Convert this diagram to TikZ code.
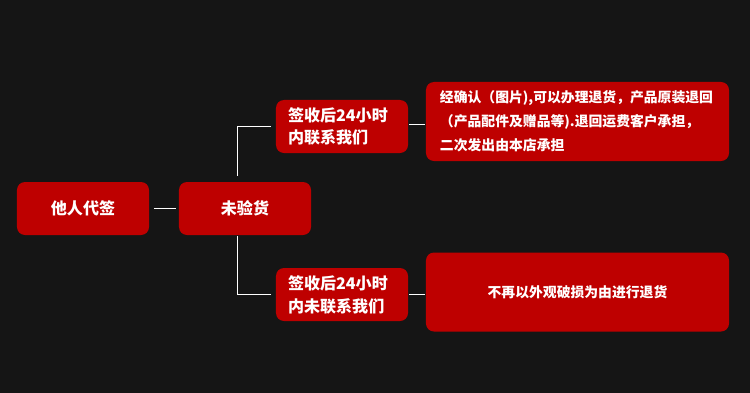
\documentclass[tikz,border=0pt]{standalone}
\usepackage{fontspec}
\setmainfont{Noto Sans CJK SC}
\usetikzlibrary{positioning,calc}
\definecolor{bgdark}{HTML}{151515}
\definecolor{boxred}{HTML}{BE0000}

\begin{document}
\begin{tikzpicture}[
  x=0.03cm,y=-0.03cm,
  block/.style={fill=boxred,text=white,rounded corners=0.24cm,minimum width=3.96cm,minimum height=1.59cm,align=center,font=\bfseries\fontsize{13.7}{19.5}\selectfont,inner sep=0pt},
  twoline/.style={block,align=left,text width=3.24cm},
  wide/.style={block,minimum width=9.09cm,minimum height=2.37cm,font=\bfseries\fontsize{11.8}{20.5}\selectfont},
  link/.style={draw=white,line width=0.8pt}
]
\fill[bgdark] (0,0) rectangle (750,393);
\useasboundingbox (0,0) rectangle (750,393);

\node[block] (signed) at (83,208.5) {他人代签};
\node[block] (unchecked) at (245,208.5) {未验货};

\node[twoline] (contact) at (342,126.5) {签收后24小时\\内联系我们};
\node[twoline] (nocontact) at (342,294.5) {签收后24小时\\内未联系我们};

\node[wide,align=left,text width=8.25cm] (refund) at (577.5,121.5) {经确认（图片),可以办理退货，产品原装退回\\（产品配件及赠品等).退回运费客户承担，\\二次发出由本店承担};
\node[wide] (refuse) at (577.5,292) {不再以外观破损为由进行退货};

\coordinate (fork) at (237,208.5);

\draw[link,shorten <=4pt,shorten >=2pt] (signed) -- (unchecked);
\draw[link,shorten <=4pt] (contact.west) -| ([yshift=5pt]fork |- unchecked.north);
\draw[link,shorten <=4pt] (nocontact.west) -| ([yshift=-1pt]fork |- unchecked.south);
\draw[link,shorten <=1pt,shorten >=1pt] ([yshift=2pt]contact.east) -- ([yshift=2pt]contact.east -| refund.west);
\draw[link,shorten <=1pt,shorten >=1pt] (nocontact.east) -- (nocontact.east -| refuse.west);
\end{tikzpicture}
\end{document}
